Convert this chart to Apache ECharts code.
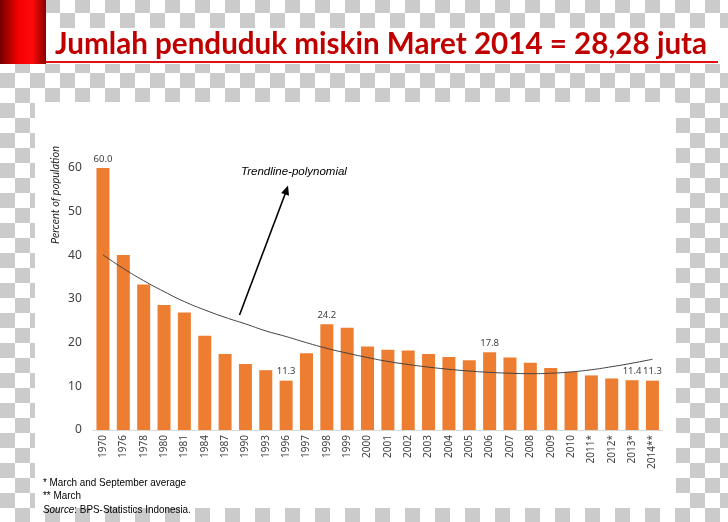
<!DOCTYPE html>
<html>
<head>
<meta charset="utf-8">
<script src="https://cdn.jsdelivr.net/npm/echarts@6/dist/echarts.min.js"></script>
<style>
  html, body { margin: 0; padding: 0; }
  #chart {
    width: 728px; height: 522px;
    background-color: #ffffff;
    background-image: repeating-conic-gradient(#cbcbcb 0 25%, #ffffff 0 50%);
    background-size: 30px 30px;
    background-position: 0px -2px;
  }
</style>
</head>
<body>
<div id="chart"></div>
<script>
const titleText = 'Jumlah penduduk miskin Maret 2014 = 28,28 juta';
const categories = ['1970','1976','1978','1980','1981','1984','1987','1990','1993','1996','1997','1998','1999','2000','2001','2002','2003','2004','2005','2006','2007','2008','2009','2010','2011*','2012*','2013*','2014**'];
const poverty = [60.0,40.1,33.3,28.6,26.9,21.6,17.4,15.1,13.7,11.3,17.6,24.2,23.4,19.1,18.4,18.2,17.4,16.7,16.0,17.8,16.6,15.4,14.2,13.3,12.5,11.8,11.4,11.3];
const trend = [40.1,37.0,34.2,31.7,29.4,27.5,25.8,24.3,22.7,21.4,20.0,18.7,17.6,16.6,15.7,15.0,14.4,13.9,13.5,13.2,13.0,12.9,13.0,13.3,13.8,14.5,15.3,16.2];
const labeledCategories = ['1970','1996','1998','2006','2013*','2014**'];
const yTicks = { min: 0, max: 60, interval: 10 };
const yName = 'Percent of population';
const trendName = 'Trendline-polynomial';
const footnotes = ['* March and September average', '** March'];

const chart = echarts.init(document.getElementById('chart'), null, { renderer: 'canvas' });

const barData = poverty.map((v, i) => ({
  value: v,
  label: { show: labeledCategories.includes(categories[i]) }
}));

const option = {
  backgroundColor: 'transparent',
  animation: false,
  graphic: [
    { type: 'rect', z: -10, shape: { x: 35, y: 102, width: 641, height: 406 }, style: { fill: '#ffffff' } },
    { type: 'rect', z: -10, shape: { x: 46, y: 28, width: 682, height: 36 }, style: { fill: '#ffffff' } },
    { type: 'rect', z: -9, shape: { x: 0, y: 0, width: 46, height: 64 },
      style: { fill: new echarts.graphic.LinearGradient(0, 0, 1, 0, [
        { offset: 0, color: '#720000' },
        { offset: 0.4, color: '#f50000' },
        { offset: 0.7, color: '#ff0a0a' },
        { offset: 1, color: '#8a0000' }
      ]) } },
    { type: 'line', z: -8, shape: { x1: 46, y1: 62, x2: 718, y2: 62 }, style: { stroke: '#e01010', lineWidth: 2 } },
    { type: 'text', x: 55, y: 44, style: { text: titleText, font: 'bold 29.6px Lato', fill: '#c00000', align: 'left', verticalAlign: 'middle' } },
    { type: 'text', x: 55, y: 195, rotation: Math.PI / 2, style: { text: yName, font: 'italic 11px Lato', fill: '#262626', align: 'center', verticalAlign: 'middle' } },
    { type: 'text', x: 241, y: 172, style: { text: trendName, font: 'italic 11.5px "Liberation Sans"', fill: '#000000', align: 'left', verticalAlign: 'middle' } },
    { type: 'line', shape: { x1: 239.5, y1: 315, x2: 285.5, y2: 193 }, style: { stroke: '#000000', lineWidth: 1.6 } },
    { type: 'polygon', shape: { points: [[288, 185.5], [289, 195.8], [281.2, 193]] }, style: { fill: '#000000' } },
    { type: 'text', x: 43, y: 483, scaleX: 0.86, style: { text: footnotes[0], font: '11.5px "Liberation Sans"', fill: '#000000', align: 'left', verticalAlign: 'middle' } },
    { type: 'text', x: 43, y: 496, scaleX: 0.86, style: { text: footnotes[1], font: '11.5px "Liberation Sans"', fill: '#000000', align: 'left', verticalAlign: 'middle' } },
    { type: 'text', x: 43, y: 510, scaleX: 0.86, style: {
      text: '{i|Source}: BPS-Statistics Indonesia.',
      font: '11.5px "Liberation Sans"', fill: '#000000', align: 'left', verticalAlign: 'middle',
      rich: { i: { font: 'italic 11.5px "Liberation Sans"', fill: '#000000' } }
    } }
  ],
  grid: { left: 92.8, right: 65.4, top: 168, bottom: 92, containLabel: false },
  xAxis: {
    type: 'category',
    data: categories,
    axisLine: { show: true, lineStyle: { color: '#d9d9d9', width: 1 } },
    axisTick: { show: false },
    axisLabel: { rotate: 90, interval: 0, margin: 5, fontSize: 10, color: '#404040', fontFamily: '"Noto Sans"' }
  },
  yAxis: {
    type: 'value',
    min: yTicks.min, max: yTicks.max, interval: yTicks.interval,
    axisLine: { show: false },
    axisTick: { show: false },
    splitLine: { show: false },
    axisLabel: { fontSize: 12, color: '#404040', margin: 11, fontFamily: '"Noto Sans"' }
  },
  series: [
    {
      type: 'bar',
      data: barData,
      barWidth: 13,
      itemStyle: { color: '#ed7d31' },
      label: { position: 'top', distance: 4, fontSize: 9.5, color: '#404040', fontFamily: '"Noto Sans"',
        formatter: p => Number(p.value).toFixed(1) }
    },
    {
      type: 'line',
      data: trend,
      smooth: true,
      symbol: 'none',
      z: 5,
      lineStyle: { color: '#404040', width: 1 }
    }
  ]
};
chart.setOption(option);
</script>
</body>
</html>
